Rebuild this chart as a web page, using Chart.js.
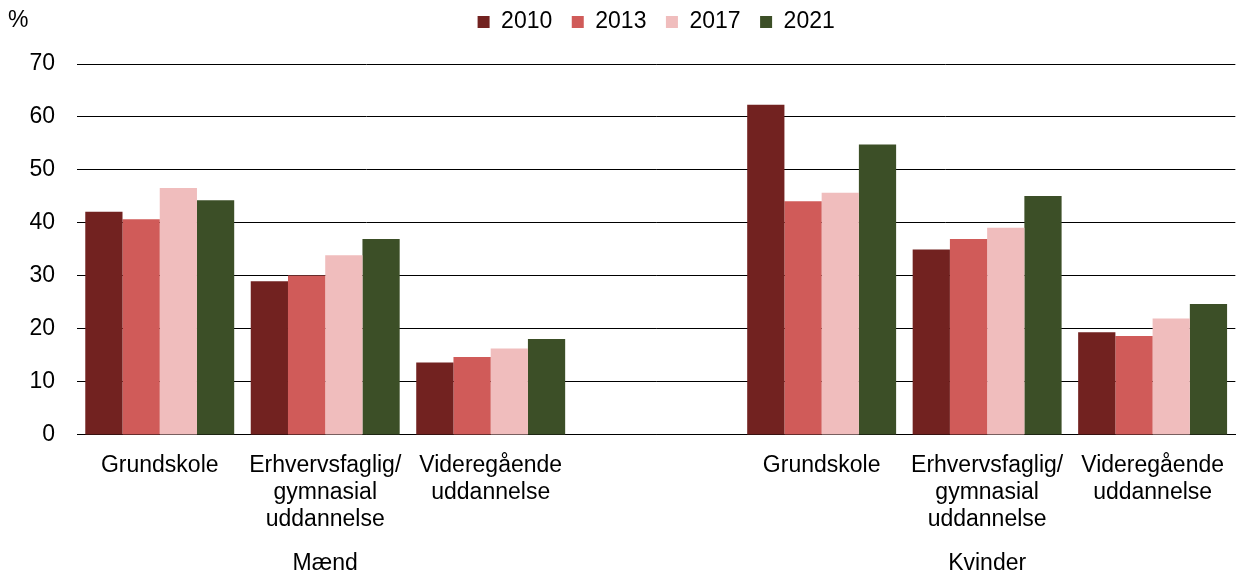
<!DOCTYPE html>
<html>
<head>
<meta charset="utf-8">
<script src="https://cdn.jsdelivr.net/npm/chart.js@4"></script>
<style>
  body { margin: 0; background: #fff; }
  #boks { width: 1242px; height: 573px; }
</style>
</head>
<body>
<div id="boks"><canvas id="grafik"></canvas></div>
<script>
const kategorier = [
    ['Grundskole'],
    ['Erhvervsfaglig/', 'gymnasial', 'uddannelse'],
    ['Videregående', 'uddannelse'],
    '',
    ['Grundskole'],
    ['Erhvervsfaglig/', 'gymnasial', 'uddannelse'],
    ['Videregående', 'uddannelse']
];
const grupper = ['', 'Mænd', '', '', '', 'Kvinder', ''];
const aar = ['2010', '2013', '2017', '2021'];
const v2010 = [42.1, 29.0, 13.7, null, 62.3, 35.0, 19.4];
const v2013 = [40.7, 30.1, 14.7, null, 44.1, 37.0, 18.7];
const v2017 = [46.6, 33.9, 16.3, null, 45.7, 39.1, 22.0];
const v2021 = [44.3, 37.0, 18.1, null, 54.8, 45.1, 24.7];
const farver = ['#722220', '#d05b59', '#f0bdbd', '#3c4f27'];

const skrift = "'Liberation Sans', Arial, sans-serif";

// "%" oppe i venstre hjoerne
const procentTegn = {
    id: 'procentTegn',
    afterDraw(chart) {
        const ctx = chart.ctx;
        ctx.save();
        ctx.font = '23px ' + skrift;
        ctx.fillStyle = '#000';
        ctx.textBaseline = 'middle';
        ctx.fillText('%', 8, 21);
        ctx.restore();
    }
};

const serier = [v2010, v2013, v2017, v2021].map((v, i) => ({
    label: aar[i],
    data: v,
    backgroundColor: farver[i],
    categoryPercentage: 0.9,
    barPercentage: 1.0
}));

new Chart(document.getElementById('grafik').getContext('2d'), {
    type: 'bar',
    data: { labels: kategorier, datasets: serier },
    options: {
        responsive: true,
        maintainAspectRatio: false,
        animation: false,
        layout: { padding: { top: -9, right: 0, bottom: -3, left: 0 } },
        plugins: {
            legend: {
                position: 'top',
                fullSize: false,
                labels: {
                    color: '#000',
                    font: { family: skrift, size: 23 },
                    boxWidth: 12,
                    boxHeight: 12,
                    padding: 19.5
                }
            },
            // tom titel under forklaringen, bare som afstand
            title: {
                display: true,
                text: ' ',
                weight: 500,
                font: { size: 1, lineHeight: 1 },
                padding: { top: 0, bottom: 19.5 }
            },
            tooltip: { enabled: false }
        },
        scales: {
            x: {
                grid: { display: false, drawTicks: false },
                border: { color: '#000', width: 1 },
                ticks: {
                    color: '#000',
                    font: { family: skrift, size: 23, lineHeight: 1.174 },
                    maxRotation: 0,
                    autoSkip: false,
                    padding: 17.5
                }
            },
            x2: {
                type: 'category',
                position: 'bottom',
                labels: grupper,
                grid: { display: false, drawTicks: false },
                border: { display: false },
                ticks: {
                    color: '#000',
                    font: { family: skrift, size: 23, lineHeight: 1 },
                    maxRotation: 0,
                    autoSkip: false,
                    padding: 1
                }
            },
            y: {
                min: 0,
                max: 70,
                afterFit(scale) { scale.width = 77; },
                grid: { color: '#000', lineWidth: 1, drawTicks: false },
                border: { display: false },
                ticks: {
                    stepSize: 10,
                    color: '#000',
                    font: { family: skrift, size: 23 },
                    padding: 22
                }
            }
        }
    },
    plugins: [procentTegn]
});
</script>
</body>
</html>
